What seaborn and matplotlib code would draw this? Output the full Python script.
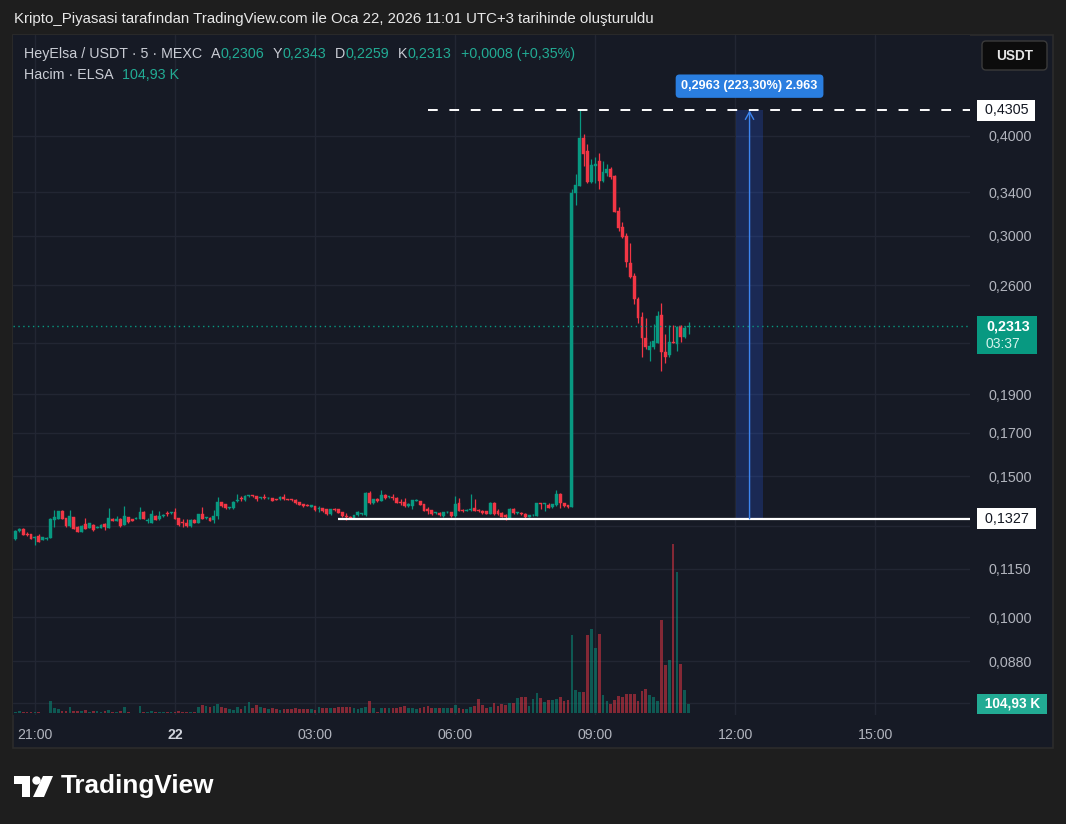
import matplotlib
matplotlib.use("Agg")
import matplotlib.pyplot as plt
import numpy as np
import pandas as pd
import seaborn as sns
from matplotlib.patches import Rectangle, Polygon, Circle, FancyBboxPatch
from matplotlib.ticker import NullLocator, NullFormatter
from matplotlib.transforms import IdentityTransform

# ---------------- data (5-minute candles, 20:35 -> 11:00) ----------------
opens = [
    .1253, .1280, .1289, .1271, .1270, .1256, .1263, .1249, .1252, .1256,
    .1323, .1327, .1357, .1330, .1300, .1334, .1297, .1278, .1308, .1293,
    .1304, .1294, .1293, .1308, .1293, .1327, .1319, .1327, .1304, .1334,
    .1325, .1327, .1327, .1355, .1319, .1313, .1338, .1325, .1338, .1349,
    .1349, .1353, .1330, .1315, .1311, .1299, .1323, .1313, .1346, .1330,
    .1332, .1321, .1338, .1393, .1384, .1369, .1369, .1397, .1409, .1400,
    .1416, .1420, .1417, .1409, .1412, .1408, .1409, .1404, .1405, .1414,
    .1405, .1404, .1403, .1392, .1385, .1382, .1375, .1377, .1366, .1369,
    .1364, .1344, .1366, .1364, .1353, .1338, .1336, .1332, .1340, .1345,
    .1340, .1430, .1389, .1404, .1399, .1423, .1412, .1413, .1411, .1395,
    .1395, .1377, .1379, .1399, .1396, .1385, .1364, .1361, .1349, .1350,
    .1338, .1352, .1353, .1338, .1391, .1361, .1359, .1361, .1369, .1362,
    .1359, .1356, .1346, .1390, .1359, .1350, .1340, .1330, .1366, .1348,
    .1350, .1344, .1335, .1340, .1339, .1389, .1386, .1383, .1372, .1380,
    .1424, .1389, .1380, .1375, .3394, .3463, .3980, .3834, .3506, .3672,
    .3721, .3516, .3598, .3640, .3560, .3220, .3075, .2995, .2776, .2673,
    .2500, .2376, .2232, .2159, .2175, .2205, .2388, .2148, .2128, .2210,
    .2196, .2313, .2239, .2306]
highs = [
    .1284, .1292, .1291, .1279, .1272, .1262, .1270, .1261, .1258, .1329,
    .1361, .1359, .1360, .1332, .1361, .1336, .1299, .1302, .1330, .1313,
    .1306, .1299, .1306, .1310, .1369, .1329, .1338, .1329, .1377, .1336,
    .1327, .1333, .1373, .1357, .1330, .1361, .1340, .1357, .1344, .1357,
    .1355, .1369, .1332, .1327, .1327, .1325, .1325, .1346, .1373, .1336,
    .1334, .1361, .1414, .1395, .1386, .1375, .1397, .1425, .1417, .1420,
    .1422, .1422, .1419, .1414, .1424, .1413, .1411, .1406, .1416, .1424,
    .1407, .1406, .1405, .1394, .1387, .1384, .1382, .1379, .1377, .1371,
    .1366, .1366, .1368, .1366, .1355, .1350, .1338, .1342, .1357, .1351,
    .1432, .1439, .1406, .1411, .1442, .1425, .1418, .1424, .1413, .1405,
    .1409, .1389, .1403, .1405, .1398, .1387, .1373, .1363, .1354, .1352,
    .1355, .1357, .1355, .1417, .1409, .1366, .1365, .1424, .1405, .1364,
    .1361, .1358, .1392, .1392, .1364, .1352, .1344, .1368, .1368, .1355,
    .1352, .1350, .1342, .1344, .1391, .1391, .1391, .1389, .1387, .1442,
    .1429, .1391, .1382, .3437, .3587, .4305, .4023, .3908, .3740, .3766,
    .3812, .3718, .3688, .3655, .3570, .3257, .3121, .3022, .2941, .2693,
    .2517, .2408, .2369, .2216, .2327, .2417, .2474, .2260, .2320, .2318,
    .2310, .2320, .2310, .2343]
lows = [
    .1250, .1278, .1265, .1264, .1251, .1230, .1240, .1247, .1250, .1254,
    .1297, .1325, .1325, .1298, .1298, .1287, .1276, .1276, .1287, .1291,
    .1283, .1292, .1291, .1285, .1291, .1317, .1317, .1298, .1302, .1313,
    .1318, .1325, .1325, .1325, .1311, .1311, .1321, .1323, .1336, .1338,
    .1347, .1325, .1301, .1297, .1298, .1297, .1311, .1311, .1325, .1328,
    .1318, .1311, .1327, .1375, .1367, .1367, .1367, .1395, .1397, .1398,
    .1414, .1414, .1399, .1407, .1406, .1406, .1397, .1401, .1403, .1403,
    .1400, .1399, .1387, .1381, .1375, .1376, .1373, .1359, .1353, .1353,
    .1342, .1342, .1359, .1348, .1336, .1323, .1330, .1330, .1338, .1343,
    .1338, .1387, .1387, .1395, .1397, .1407, .1410, .1402, .1389, .1381,
    .1375, .1375, .1367, .1397, .1381, .1357, .1344, .1342, .1347, .1338,
    .1336, .1350, .1336, .1336, .1357, .1355, .1357, .1359, .1357, .1354,
    .1346, .1344, .1344, .1342, .1342, .1334, .1323, .1328, .1346, .1346,
    .1343, .1330, .1333, .1338, .1337, .1364, .1357, .1369, .1370, .1378,
    .1369, .1374, .1371, .1373, .3281, .3460, .3672, .3490, .3495, .3495,
    .3436, .3506, .3564, .3535, .3210, .3044, .2985, .2744, .2660, .2462,
    .2331, .2117, .2163, .2093, .2163, .2200, .2034, .2081, .2113, .2201,
    .2154, .2208, .2235, .2259]
closes = [
    .1282, .1289, .1267, .1268, .1253, .1259, .1242, .1259, .1256, .1327,
    .1334, .1357, .1327, .1300, .1338, .1289, .1278, .1300, .1289, .1311,
    .1285, .1297, .1304, .1297, .1330, .1319, .1327, .1300, .1338, .1315,
    .1320, .1331, .1355, .1327, .1323, .1346, .1323, .1338, .1342, .1346,
    .1353, .1327, .1303, .1310, .1300, .1323, .1313, .1344, .1327, .1334,
    .1320, .1338, .1393, .1377, .1369, .1373, .1395, .1401, .1405, .1418,
    .1420, .1416, .1405, .1412, .1408, .1411, .1399, .1403, .1414, .1405,
    .1402, .1401, .1389, .1383, .1377, .1378, .1380, .1361, .1370, .1359,
    .1344, .1364, .1361, .1350, .1338, .1334, .1332, .1340, .1355, .1349,
    .1430, .1389, .1404, .1397, .1423, .1409, .1416, .1409, .1391, .1391,
    .1377, .1387, .1401, .1403, .1383, .1359, .1359, .1344, .1352, .1340,
    .1353, .1355, .1338, .1385, .1359, .1357, .1363, .1365, .1359, .1356,
    .1348, .1346, .1390, .1344, .1344, .1336, .1334, .1366, .1348, .1353,
    .1345, .1335, .1340, .1342, .1389, .1385, .1388, .1371, .1385, .1424,
    .1389, .1376, .1373, .3391, .3470, .3980, .3797, .3506, .3679, .3687,
    .3516, .3609, .3640, .3555, .3216, .3065, .2992, .2784, .2666, .2500,
    .2369, .2236, .2179, .2184, .2215, .2381, .2148, .2117, .2208, .2205,
    .2304, .2239, .2297, .2313]
volumes_k = [
    15, 26, 15, 15, 15, 15, 15, 8, 8, 139,
    56, 49, 26, 26, 71, 26, 26, 26, 37, 15,
    26, 26, 15, 26, 37, 15, 15, 26, 71, 15,
    8, 8, 86, 15, 15, 26, 15, 15, 15, 15,
    15, 15, 26, 15, 15, 15, 15, 71, 94, 86,
    71, 86, 105, 71, 56, 49, 37, 71, 49, 86,
    127, 56, 94, 75, 56, 49, 56, 49, 37, 49,
    49, 49, 64, 49, 49, 49, 49, 37, 71, 64,
    64, 64, 64, 71, 71, 71, 71, 64, 49, 64,
    71, 139, 56, 15, 56, 56, 56, 56, 64, 71,
    86, 56, 64, 49, 56, 71, 86, 56, 56, 56,
    56, 56, 56, 94, 56, 49, 49, 71, 86, 161,
    94, 56, 71, 120, 86, 105, 94, 120, 120, 172,
    187, 187, 86, 161, 229, 172, 127, 150, 150, 161,
    187, 139, 150, 880, 262, 240, 240, 880, 948, 734,
    892, 206, 139, 109, 150, 195, 187, 217, 217, 217,
    139, 251, 273, 206, 187, 139, 1049, 543, 599, 1903,
    1588, 554, 262, 104.93]

time_ticks = [5, 41, 77, 113, 149, 185, 221]
time_labels = ["21:00", "22", "03:00", "06:00", "09:00", "12:00", "15:00"]
# 0.078, 0.13 and 0.22 sit behind the value boxes on the price scale
price_ticks = [0.078, 0.088, 0.100, 0.115, 0.130, 0.150, 0.170, 0.190,
               0.220, 0.260, 0.300, 0.340, 0.400]
price_labels = ["", "0,0880", "0,1000", "0,1150", "", "0,1500",
                "0,1700", "0,1900", "", "0,2600", "0,3000", "0,3400",
                "0,4000"]

last_price = 0.2313
last_price_label = "0,2313"
countdown_label = "03:37"
last_volume_label = "104,93 K"
range_low, range_high = 0.1327, 0.4305
range_start, range_end = 185.2, 192.1
range_label = "0,2963 (223,30%) 2.963"
high_line_start = 106
low_line_start = 82.9

title = ("Kripto_Piyasasi tarafından TradingView.com ile Oca 22, 2026 11:01 "
         "UTC+3 tarihinde oluşturuldu")
legend_line1 = [("HeyElsa / USDT · 5 · MEXC", "g", 0), ("A", "g", 6.5),
                ("0,2306", "t", 0), ("Y", "g", 6.5), ("0,2343", "t", 0),
                ("D", "g", 6.5), ("0,2259", "t", 0), ("K", "g", 6.5),
                ("0,2313", "t", 0), ("+0,0008 (+0,35%)", "t", 6.5)]
legend_line2 = [("Hacim · ELSA", "g", 0), ("104,93 K", "t", 6.5)]

# ---------------- style ----------------
W, H = 1066, 824
sns.set_theme(style="dark")
plt.rcParams["font.family"] = ["Liberation Sans", "DejaVu Sans"]

BG_OUT = "#1e1e1e"
BG_PANE = "#161a25"
GRID = "#222633"
UP = "#089981"
DOWN = "#f23645"
AXTXT = "#b2b5be"
LEG_G = "#c9ccd4"
LEG_T = "#22ab94"
PX = IdentityTransform()

fig = plt.figure(figsize=(W / 100, H / 100), dpi=100, facecolor=BG_OUT)


def fx(x):
    return x / W


def fy(y):
    return 1 - y / H


fig.add_artist(Rectangle((13, H - 748), 1040, 713, transform=PX,
                         facecolor=BG_PANE, edgecolor="#2c2c2c", lw=1.2,
                         zorder=-1))

ax = fig.add_axes([fx(13), fy(715), fx(970) - fx(13), fy(35) - fy(715)])
ax.set_facecolor(BG_PANE)
ax2 = ax.twinx()

o = np.array(opens)
h = np.array(highs)
l = np.array(lows)
c = np.array(closes)
idx = np.arange(len(c))
up = c >= o
colors = np.where(up, UP, DOWN)

# volume (overlay scale) with seaborn
df = pd.DataFrame({"idx": idx, "vol": volumes_k,
                   "dir": np.where(up, "up", "down")})
sns.barplot(data=df, x="idx", y="vol", hue="dir",
            palette={"up": UP, "down": DOWN}, native_scale=True, dodge=False,
            width=0.7, alpha=0.5, errorbar=None, legend=False, saturation=1,
            linewidth=0, ax=ax2)
ax2.set_ylim(-19, 7624)
ax2.yaxis.set_visible(False)
ax2.set_xlabel("")
ax2.set_ylabel("")

# candles
ax.set_yscale("log")
ax.vlines(idx, l, h, colors=colors, lw=0.9, zorder=2)
ax.bar(idx, np.abs(c - o), bottom=np.minimum(o, c), width=0.74, color=colors,
       edgecolor=colors, linewidth=0.3, zorder=3)

ax.set_xlim(-0.62, 245.3)
ax.set_ylim(0.0754, 0.5351)

ax.yaxis.tick_right()
ax.set_yticks(price_ticks, labels=price_labels)
ax.yaxis.set_minor_locator(NullLocator())
ax.yaxis.set_minor_formatter(NullFormatter())
ax.set_xticks(time_ticks, labels=time_labels)
ax.tick_params(axis="y", length=0, pad=13, labelsize=10.3, labelcolor=AXTXT)
ax.tick_params(axis="x", length=0, pad=9.2, labelsize=10.2, labelcolor=AXTXT)
for lbl in ax.get_xticklabels():
    if lbl.get_text() == "22":
        lbl.set_fontweight("bold")
        lbl.set_color("#d1d4dc")
ax.grid(True, color=GRID, lw=1)
ax.set_axisbelow(True)
ax.set_xlabel("")
ax.set_ylabel("")
for a in (ax, ax2):
    for s in a.spines.values():
        s.set_visible(False)

# reference lines
ax.axhline(last_price, color=UP, lw=1, ls=(0, (1, 2.5)), zorder=4)
ax.hlines(range_high, high_line_start, 245.3, colors="white", lw=1.4,
          linestyles=(0, (5, 6)), zorder=4)
ax.hlines(range_low, low_line_start, 245.3, colors="white", lw=1.6, zorder=4)

# price range tool
ax.fill_between([range_start, range_end], range_low, range_high,
                color="#2962ff", alpha=0.22, lw=0, zorder=1.5)
mid = (range_start + range_end) / 2
ax.annotate("", xy=(mid, range_high), xytext=(mid, range_low),
            arrowprops=dict(arrowstyle="->,head_length=0.45,head_width=0.25",
                            color="#3d85f0", lw=1.0, shrinkA=0, shrinkB=0),
            zorder=5)
ax.annotate(range_label, xy=(mid, range_high), xytext=(0, 17.5),
            textcoords="offset points", ha="center", va="center",
            fontsize=9.1, fontweight="bold", color="white",
            bbox=dict(boxstyle="round,pad=0.45,rounding_size=0.3",
                      fc="#2a7ee0", ec="none"), zorder=6)


# axis value boxes
def axis_box(a, y, text, fc, tc, weight="normal", size=10.3, dy=0.0):
    a.annotate(text, xy=(1, y), xycoords=a.get_yaxis_transform(),
               xytext=(7.6, dy), textcoords="offset points", ha="left",
               va="center", fontsize=size, color=tc, fontweight=weight,
               annotation_clip=False, zorder=10,
               bbox=dict(boxstyle="square,pad=0.24", fc=fc, ec="none"))


axis_box(ax, range_high, " 0,4305 ", "white", "#131722")
axis_box(ax, range_low, " 0,1327 ", "white", "#131722")
axis_box(ax2, volumes_k[-1], " " + last_volume_label + " ", "#22ab94",
         "white", weight="bold", size=9.8)

# current price box (two lines), positioned through the price scale
ax.set_xlim(-0.62, 245.3)
yp = ax.transData.transform((0, last_price))[1]
fig.add_artist(Rectangle((977, yp - 28), 60, 38, transform=PX, fc=UP,
                         ec="none", zorder=8))
fig.text(986, yp - 0.5, last_price_label, transform=PX, ha="left",
         va="center", fontsize=10.3, fontweight="bold", color="white",
         zorder=9)
fig.text(986, yp - 17.5, countdown_label, transform=PX, ha="left",
         va="center", fontsize=10.0, color="#d5f2ec", zorder=9)

# USDT button
fig.add_artist(FancyBboxPatch((982, H - 70), 65, 29,
                              boxstyle="round,pad=0,rounding_size=4",
                              transform=PX, fc="#0c0c0c", ec="#3a3a3a",
                              lw=1.0, zorder=5))
fig.text(1014.5, H - 55.5, "USDT", transform=PX, ha="center", va="center",
         fontsize=9.8, fontweight="bold", color="#e6e6e6", zorder=6)

# title
fig.text(14, H - 19.5, title, transform=PX, ha="left", va="center",
         fontsize=10.8, color="#e8e8e8")


# legend lines (chained segments)
def chain(segments, x0, y0, size):
    prev = None
    for txt, kind, gap in segments:
        col = LEG_G if kind == "g" else LEG_T
        if prev is None:
            prev = ax.annotate(txt, xy=(x0, y0), xycoords=PX, ha="left",
                               va="baseline", fontsize=size, color=col,
                               annotation_clip=False)
        else:
            prev = ax.annotate(txt, xy=(1, 0), xycoords=prev,
                               xytext=(gap, 0), textcoords="offset points",
                               ha="left", va="bottom", fontsize=size,
                               color=col, annotation_clip=False)


chain(legend_line1, 23.5, H - 58, 10.3)
chain(legend_line2, 23.5, H - 79, 10.3)

# TradingView logo
fig.add_artist(Polygon([(14, H - 776), (30, H - 776), (30, H - 797),
                        (22, H - 797), (22, H - 784), (14, H - 784)],
                       closed=True, transform=PX, fc="white", ec="none"))
fig.add_artist(Circle((36.5, H - 780.5), 4.2, transform=PX, fc="white",
                      ec="none"))
fig.add_artist(Polygon([(43, H - 776), (53, H - 776), (44, H - 797),
                        (33, H - 797)], closed=True, transform=PX,
                       fc="white", ec="none"))
fig.text(61, H - 786.5, "TradingView", transform=PX, ha="left", va="center",
         fontsize=18.8, fontweight="bold", color="white")

fig.savefig("out.png", dpi=100, facecolor=BG_OUT)
